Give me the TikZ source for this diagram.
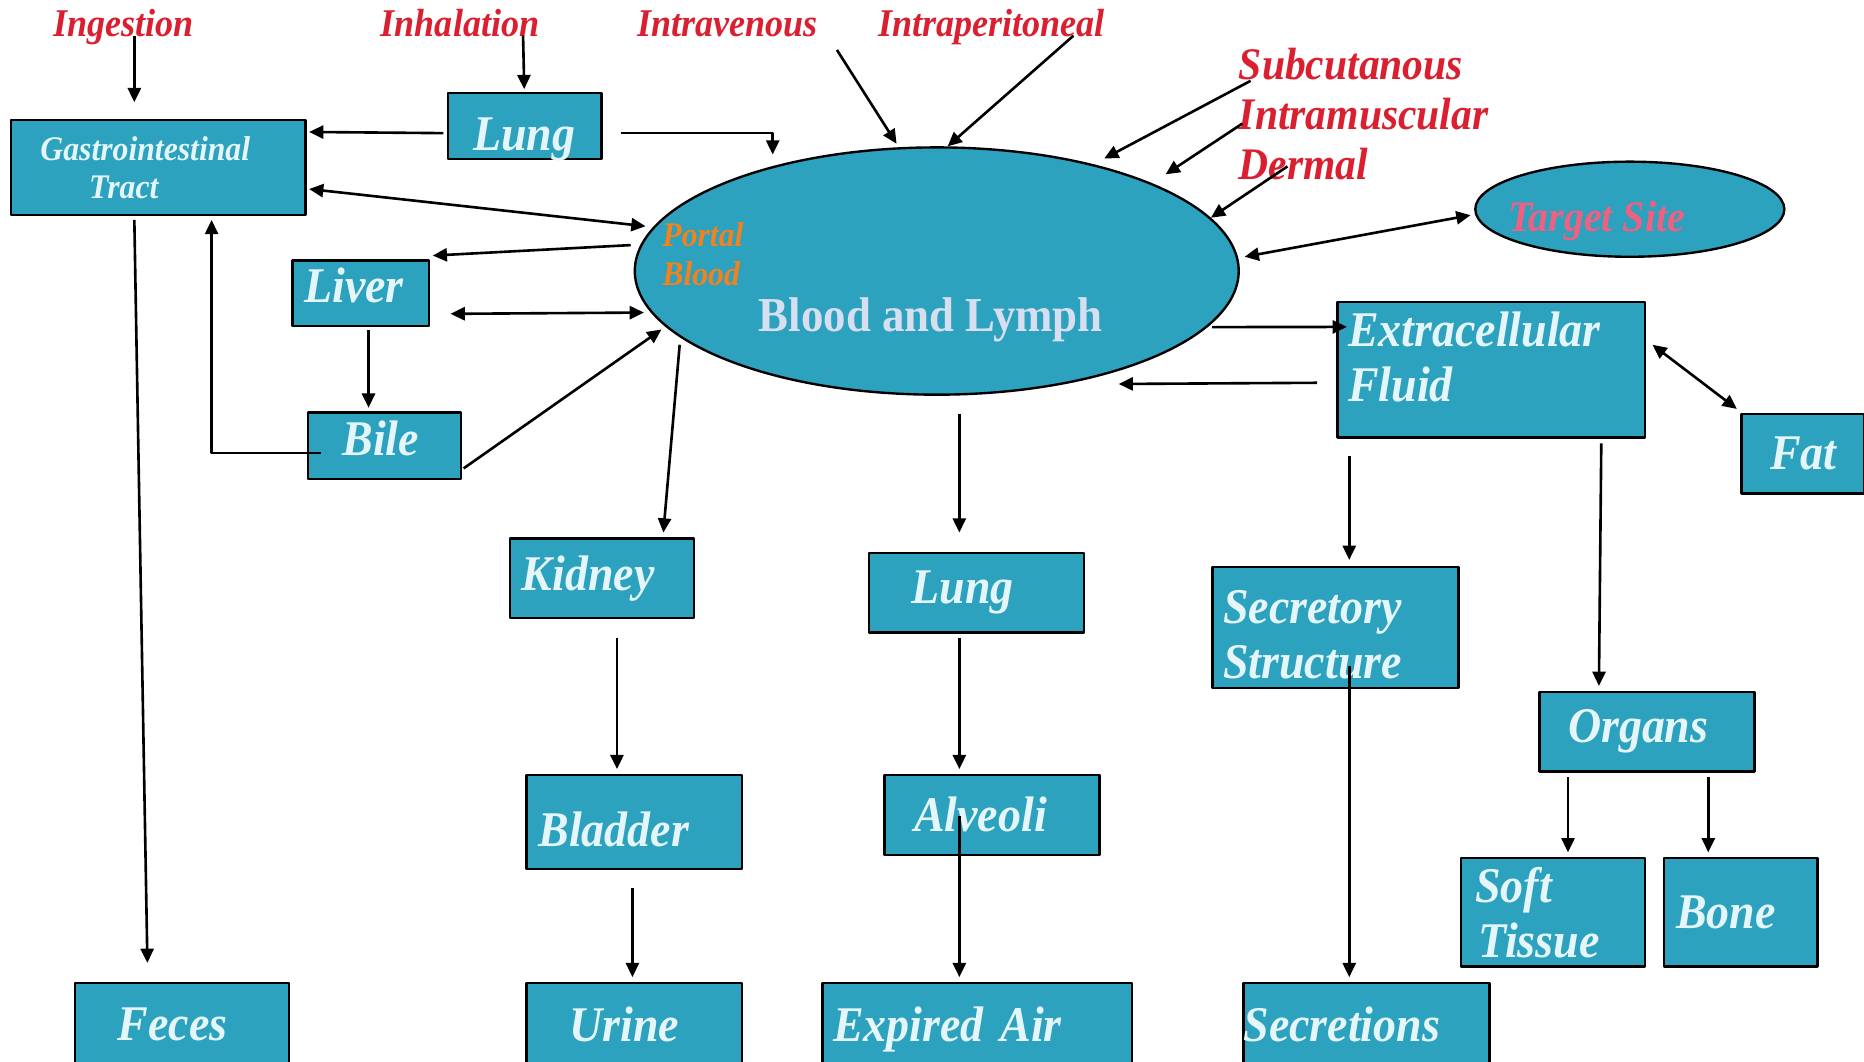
\documentclass[tikz,border=0pt]{standalone}
\usepackage{fontspec}
\setmainfont{Liberation Serif}
\newfontfamily\narrowserif{Liberation Serif}[FakeStretch=0.92]
\usetikzlibrary{arrows.meta,shapes.geometric}

\definecolor{boxteal}{RGB}{44,162,190}
\definecolor{boxtext}{RGB}{228,246,250}
\definecolor{routered}{RGB}{218,32,48}
\definecolor{portalorange}{RGB}{242,130,30}
\definecolor{targetpink}{RGB}{240,96,128}
\definecolor{lymphtext}{RGB}{214,222,240}

\begin{document}
\begin{tikzpicture}[x=1pt, y=-1pt, line join=round,
  >={Triangle[length=12pt,width=11pt]},
  box/.style={draw, line width=2pt, fill=boxteal, text=boxtext, anchor=north west,
    align=left, inner ysep=0pt,
    font=\narrowserif\bfseries\itshape\fontsize{42}{46}\selectfont},
  route/.style={text=routered, inner sep=0pt, anchor=base,
    font=\narrowserif\bfseries\itshape\fontsize{33}{36}\selectfont},
  sideroute/.style={route, anchor=base west,
    font=\narrowserif\bfseries\itshape\fontsize{38}{42}\selectfont},
  pool/.style={ellipse, draw, line width=2pt, fill=boxteal, inner sep=0pt},
  flow/.style={line width=2.2pt}]
  \useasboundingbox (0,0) rectangle (1568,893);
  \clip (0,0) rectangle (1568,893);

  % --- routes of entry ---
  \node[route] (ingest) at (104,31) {Ingestion};
  \node[route] (inhal)  at (387,31) {Inhalation};
  \node[route] (intrav) at (612,31) {Intravenous};
  \node[route] (intrap) at (834,31) {Intraperitoneal};
  \node[sideroute] (subcut) at (1042,67)  {Subcutanous};
  \node[sideroute] (intram) at (1042,109) {Intramuscular};
  \node[sideroute] (dermal) at (1042,151) {Dermal};

  % --- blood pool and target ---
  \node[pool, minimum width=508pt, minimum height=208pt] (blood) at (788,228) {};
  \node[pool, minimum width=260pt, minimum height=80pt] (target) at (1371,176) {};
  \node[anchor=north west, inner sep=0pt, align=left, text=portalorange,
        font=\narrowserif\bfseries\itshape\fontsize{29}{33}\selectfont] (portal) at (557,187) {Portal\\Blood};
  \node[anchor=base, inner sep=0pt, text=lymphtext,
        font=\narrowserif\bfseries\fontsize{41}{44}\selectfont] (lymph) at (783,279) {Blood and Lymph};
  \node[anchor=base, inner sep=0pt, text=targetpink,
        font=\narrowserif\bfseries\itshape\fontsize{36.5}{40}\selectfont] (targettxt) at (1343,195) {Target Site};

  % --- compartments ---
  \node[box, inner xsep=25pt, text width=198pt, minimum height=80pt,
        font=\narrowserif\bfseries\itshape\fontsize{29}{32}\selectfont] (gi) at (8,100)
        {Gastrointestinal\\\hspace*{41pt}Tract};
  \node[box, inner xsep=21pt, text width=87pt,  minimum height=56pt, text height=41pt, text depth=0pt] (lungA) at (376,77) {Lung};
  \node[box, inner xsep=10pt, text width=95pt,  minimum height=55pt, text height=16pt, text depth=0pt] (liver) at (245,218) {Liver};
  \node[box, inner xsep=29pt, text width=71pt,  minimum height=56pt, text height=17pt, text depth=0pt] (bile)  at (258,346) {Bile};
  \node[box, inner xsep=10pt, text width=135pt, minimum height=67pt] (kidney)  at (428,452) {Kidney};
  \node[box, inner xsep=36pt, text width=109pt, minimum height=67pt] (lungB)   at (730,464) {Lung};
  \node[box, inner xsep=9pt,  text width=189pt, minimum height=102pt] (secr)   at (1019,476) {\rule{0pt}{40pt}Secretory\\Structure};
  \node[box, inner xsep=9pt,  text width=241pt, minimum height=114pt] (ecf)    at (1124,253)
        {Extracellular\\Fluid\rule[-22pt]{0pt}{22pt}};
  \node[box, inner xsep=24pt, text width=55pt,  minimum height=67pt] (fat)     at (1464,347) {Fat};
  \node[box, inner xsep=24pt, text width=133pt, minimum height=67pt] (organs)  at (1294,581) {Organs};
  \node[box, inner xsep=12pt, text width=131pt, minimum height=91pt] (soft)    at (1228,721) {Soft\\\hspace*{3pt}Tissue};
  \node[box, inner xsep=10pt, text width=109pt, minimum height=91pt] (bone)    at (1399,721) {Bone};
  \node[box, inner xsep=10pt, text width=161pt, minimum height=79pt] (bladder) at (442,651)  {\rule{0pt}{41pt}Bladder};
  \node[box, inner xsep=25pt, text width=131pt, minimum height=67pt] (alveoli) at (743,651)  {Alveoli};
  \node[box, inner xsep=36pt, text width=108pt, minimum height=70pt] (feces)   at (62,826)   {Feces};
  \node[box, inner xsep=36pt, text width=109pt, minimum height=70pt] (urine)   at (442,826)  {Urine};
  \node[box, inner xsep=9pt,  text width=242pt, minimum height=70pt, text height=29pt, text depth=0pt] (expired) at (691,826) {Expired Air};
  \node[box, inner xsep=0pt,  text width=207pt, minimum height=70pt] (secretions) at (1045,826) {Secretions};

  % --- uptake ---
  \draw[flow,->] ([shift={(9,-1)}]ingest.base) -- ([shift={(105,-14)}]gi.north west);
  \draw[flow,->] ([shift={(53,-1)}]inhal.base) -- ([shift={(-0.5,-2)}]lungA.north);
  \draw[flow,->] ([shift={(92,11)}]intrav.base) -- ([shift={(0,-3)}]blood.108);
  \draw[flow,->] ([shift={(69,-1)}]intrap.base) -- (blood.85);
  \draw[flow,->] ([shift={(10,1)}]subcut.base west) -- ([shift={(8,-5)}]blood.34);
  \draw[flow,->] ([shift={(3,-5)}]intram.base west) -- ([shift={(15,-6)}]blood.23);
  \draw[flow,->] ([shift={(41,-11)}]dermal.base west) -- (blood.11);
  \draw[flow,->] ([shift={(-3,6)}]lungA.west) -- ([shift={(2,11)}]gi.north east);
  \draw[flow,->] ([shift={(15,6)}]lungA.east) -| ([shift={(-138,7)}]blood.north);

  % --- liver and bile loop ---
  \draw[flow,<->] ([shift={(2,18)}]gi.east) -- ([shift={(-7,0)}]blood.171);
  \draw[flow,->] ([shift={(-8,0)}]blood.175) -- ([shift={(2,-3)}]liver.north east);
  \draw[flow,<->] ([shift={(17,17.5)}]liver.east) -- ([shift={(-5,1)}]blood.188);
  \draw[flow,->] ([shift={(6.5,3)}]liver.south) -- ([shift={(-13.5,-3)}]bile.north);
  \draw[flow,->] ([shift={(12,6)}]bile.west) -| ([shift={(170,3)}]gi.south west);
  \draw[flow,->] ([shift={(1,19)}]bile.east) -- ([shift={(-5,1)}]blood.192);

  % --- distribution ---
  \draw[flow,<->] ([shift={(4,-12)}]blood.east) -- ([shift={(-3,5)}]target.west);
  \draw[flow,->] ([shift={(5,-1)}]blood.348) -- ([shift={(9,22)}]ecf.north west);
  \draw[flow,->] ([shift={(-16,69)}]ecf.north west) -- ([shift={(153,-10)}]blood.south);
  \draw[flow,<->] ([shift={(5,37)}]ecf.north east) -- ([shift={(-3,-3)}]fat.north west);
  \draw[flow,->] ([shift={(-38,4)}]ecf.south east) -- ([shift={(51,-4)}]organs.north west);
  \draw[flow,->] ([shift={(25,4)}]organs.south west) -- ([shift={(91,-4)}]soft.north west);
  \draw[flow,->] ([shift={(143,4)}]organs.south west) -- ([shift={(38,-4)}]bone.north west);

  % --- excretion ---
  \draw[flow,->] ([shift={(105,3)}]gi.south west) -- ([shift={(62,-16)}]feces.north west);
  \draw[flow,->] ([shift={(-7,2)}]blood.196) -- ([shift={(130,-4)}]kidney.north west);
  \draw[flow,->] ([shift={(91,16)}]kidney.south west) -- ([shift={(77,-4)}]bladder.north west);
  \draw[flow,->] ([shift={(90,15)}]bladder.south west) -- ([shift={(90,-4)}]urine.north west);
  \draw[flow,->] ([shift={(19,15)}]blood.south) -- ([shift={(77,-16)}]lungB.north west);
  \draw[flow,->] ([shift={(77,4)}]lungB.south west) -- ([shift={(64,-4)}]alveoli.north west);
  \draw[flow,->] ([shift={(64,35)}]alveoli.north west) -- ([shift={(116,-4)}]expired.north west);
  \draw[flow,->] ([shift={(11,15)}]ecf.south west) -- ([shift={(116,-5)}]secr.north west);
  \draw[flow,->] ([shift={(116,84)}]secr.north west) -- ([shift={(90,-4)}]secretions.north west);
\end{tikzpicture}
\end{document}
